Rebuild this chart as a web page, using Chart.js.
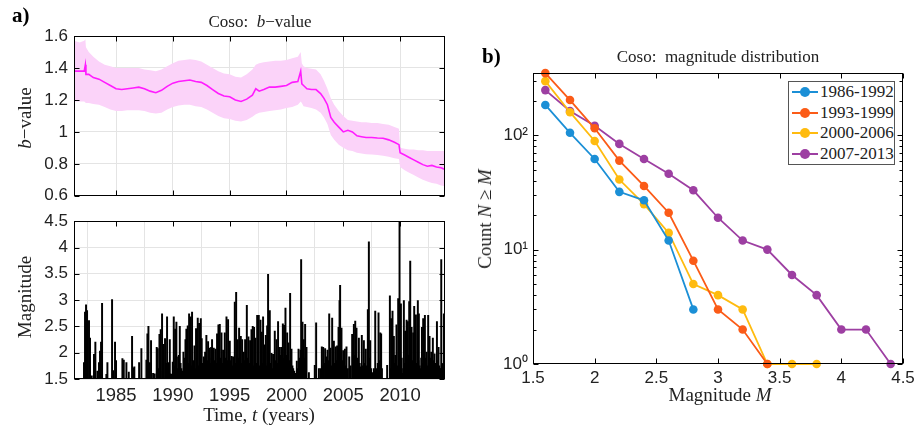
<!DOCTYPE html>
<html>
<head>
<meta charset="utf-8">
<script src="https://cdn.jsdelivr.net/npm/chart.js@4.4.1/dist/chart.umd.min.js"></script>
<style>
  body { margin: 0; background: #fff; }
  #page { position: relative; width: 923px; height: 427px; overflow: hidden; }
  .box { position: absolute; }
  .lbl { position: absolute; font-family: "Liberation Serif", serif; font-size: 17px; color: #222; white-space: nowrap; transform: translate(-50%, -50%); }
  .ax { font-size: 19px; }
  .rot { transform: translate(-50%, -50%) rotate(-90deg); }
  .tag { position: absolute; font-family: "Liberation Serif", serif; font-weight: bold; font-size: 21px; color: #000; }
  #legend { position: absolute; left: 788px; top: 81px; width: 107px; height: 84px; border: 1px solid #555; background: #fff; box-sizing: border-box; }
  .row { display: flex; align-items: center; height: 20.5px; padding-left: 3px; font-family: "Liberation Serif", serif; font-size: 17px; color: #222; white-space: nowrap; }
  .sw { position: relative; width: 26px; height: 10px; margin-right: 2px; flex: none; }
  .sw .ln { position: absolute; left: 0; right: 0; top: 4px; height: 2px; }
  .sw .dot { position: absolute; left: 8px; top: 0; width: 10px; height: 10px; border-radius: 50%; }
</style>
</head>
<body>
<div id="page">
  <div class="box" style="left:0;top:0;width:460px;height:212px"><canvas id="bChart" width="460" height="212"></canvas></div>
  <div class="box" style="left:0;top:205px;width:460px;height:222px"><canvas id="magChart" width="460" height="222"></canvas></div>
  <div class="box" style="left:470px;top:40px;width:453px;height:387px"><canvas id="distChart" width="453" height="387"></canvas></div>

  <div class="tag" style="left:12px;top:3px">a)</div>
  <div class="tag" style="left:482px;top:44px">b)</div>
  <div class="lbl" style="left:260px;top:22px">Coso: &nbsp;<i>b</i>−value</div>
  <div class="lbl" style="left:718px;top:57px">Coso: &nbsp;magnitude distribution</div>
  <div class="lbl ax rot" style="left:25px;top:118px"><i>b</i>−value</div>
  <div class="lbl ax rot" style="left:25px;top:297px">Magnitude</div>
  <div class="lbl ax" style="left:259px;top:415px">Time, <i>t</i> (years)</div>
  <div class="lbl ax rot" style="left:485px;top:219px">Count <i>N</i> ≥ <i>M</i></div>
  <div class="lbl ax" style="left:720px;top:395px">Magnitude <i>M</i></div>
  <div id="legend"></div>
</div>

<script>
// ---- b-value through time (panel a, top)
const bYears = [1981.3, 1981.8, 1982.2, 1982.3, 1982.35, 1982.6, 1983.0, 1983.5, 1984.0, 1984.5, 1985.0, 1985.5, 1986.0, 1986.5, 1987.0, 1987.5, 1988.0, 1988.5, 1989.0, 1989.5, 1990.0, 1990.5, 1991.0, 1991.5, 1992.0, 1992.5, 1993.0, 1993.5, 1994.0, 1994.5, 1995.0, 1995.5, 1996.0, 1996.5, 1997.0, 1997.3, 1997.6, 1998.0, 1998.5, 1999.0, 1999.5, 2000.0, 2000.5, 2001.0, 2001.25, 2001.35, 2001.5, 2001.8, 2002.2, 2002.6, 2003.0, 2003.3, 2003.6, 2003.9, 2004.2, 2004.6, 2005.0, 2005.4, 2005.8, 2006.2, 2006.6, 2007.0, 2007.5, 2008.0, 2008.5, 2009.0, 2009.5, 2009.9, 2010.0, 2010.4, 2010.8, 2011.2, 2011.6, 2012.0, 2012.4, 2012.8, 2013.2, 2013.6, 2013.95];
const bValue = [1.38, 1.38, 1.38, 1.42, 1.36, 1.36, 1.34, 1.33, 1.31, 1.29, 1.27, 1.265, 1.27, 1.275, 1.28, 1.27, 1.255, 1.245, 1.26, 1.285, 1.305, 1.315, 1.32, 1.325, 1.315, 1.31, 1.29, 1.265, 1.24, 1.225, 1.22, 1.2, 1.19, 1.205, 1.23, 1.27, 1.255, 1.265, 1.28, 1.28, 1.285, 1.29, 1.31, 1.315, 1.38, 1.3, 1.29, 1.27, 1.265, 1.265, 1.24, 1.21, 1.17, 1.09, 1.06, 1.03, 1.0, 1.01, 1.0, 0.975, 0.97, 0.965, 0.965, 0.962, 0.96, 0.95, 0.935, 0.92, 0.87, 0.855, 0.84, 0.825, 0.81, 0.795, 0.785, 0.79, 0.78, 0.775, 0.765];
const bUpper = [1.57, 1.56, 1.57, 1.58, 1.53, 1.5, 1.47, 1.44, 1.42, 1.41, 1.4, 1.4, 1.4, 1.4, 1.4, 1.39, 1.385, 1.38, 1.39, 1.41, 1.43, 1.445, 1.45, 1.455, 1.45, 1.44, 1.42, 1.4, 1.38, 1.365, 1.36, 1.345, 1.34, 1.36, 1.39, 1.42, 1.43, 1.435, 1.44, 1.445, 1.445, 1.45, 1.46, 1.47, 1.5, 1.43, 1.41, 1.4, 1.395, 1.39, 1.36, 1.32, 1.27, 1.21, 1.17, 1.13, 1.1, 1.075, 1.07, 1.065, 1.06, 1.06, 1.055, 1.055, 1.05, 1.045, 1.03, 1.02, 0.9, 0.895, 0.89, 0.89, 0.885, 0.885, 0.88, 0.88, 0.88, 0.88, 0.88];
const bLower = [1.19, 1.19, 1.19, 1.18, 1.18, 1.18, 1.175, 1.17, 1.155, 1.14, 1.13, 1.13, 1.135, 1.135, 1.135, 1.13, 1.12, 1.115, 1.12, 1.14, 1.155, 1.165, 1.17, 1.17, 1.16, 1.155, 1.14, 1.12, 1.1, 1.085, 1.08, 1.07, 1.065, 1.075, 1.095, 1.11, 1.12, 1.125, 1.13, 1.135, 1.14, 1.15, 1.155, 1.17, 1.19, 1.18, 1.16, 1.155, 1.15, 1.14, 1.12, 1.09, 1.05, 0.98, 0.95, 0.92, 0.9, 0.885, 0.88, 0.87, 0.865, 0.86, 0.858, 0.855, 0.85, 0.845, 0.835, 0.83, 0.78, 0.76, 0.745, 0.73, 0.715, 0.7, 0.69, 0.68, 0.675, 0.665, 0.66];

// ---- earthquake magnitudes (panel a, bottom)
const quakeYears = [
  1982.18, 1982.27, 1982.36, 1982.45, 1982.62, 1982.71, 1982.86, 1983.06, 1983.18, 1983.36,
  1983.50, 1983.59, 1983.68, 1983.77, 1984.15, 1984.24, 1984.65, 1984.74, 1984.91, 1985.00,
  1985.56, 1985.68, 1985.91, 1986.12, 1986.41, 1986.50, 1986.61, 1987.03, 1987.23, 1987.67,
  1987.76, 1987.85, 1987.96, 1988.08, 1988.26, 1988.58, 1988.67, 1988.82, 1988.93, 1989.05,
  1989.17, 1989.31, 1989.49, 1989.61, 1989.73, 1989.87, 1989.99, 1990.08, 1990.20, 1990.31,
  1990.46, 1990.61, 1990.75, 1990.93, 1991.11, 1991.19, 1991.31, 1991.43, 1991.57, 1991.69,
  1991.90, 1992.04, 1992.19, 1992.31, 1992.46, 1992.54, 1992.72, 1992.84, 1992.95, 1993.10,
  1993.25, 1993.37, 1993.45, 1993.60, 1993.75, 1993.89, 1994.01, 1994.13, 1994.28, 1994.42,
  1994.57, 1994.72, 1994.86, 1995.01, 1995.16, 1995.30, 1995.45, 1995.57, 1995.71, 1995.83,
  1995.98, 1996.10, 1996.24, 1996.36, 1996.51, 1996.65, 1996.80, 1996.92, 1997.03, 1997.15,
  1997.27, 1997.42, 1997.56, 1997.71, 1997.83, 1997.94, 1998.09, 1998.18, 1998.30, 1998.38,
  1998.53, 1998.68, 1998.82, 1998.97, 1999.12, 1999.26, 1999.41, 1999.56, 1999.68, 1999.79,
  1999.91, 2000.06, 2000.17, 2000.32, 2000.44, 2000.59, 2000.76, 2000.91, 2001.06, 2001.17,
  2001.29, 2001.41, 2001.52, 2001.64, 2001.76, 2001.97, 2002.49, 2002.61, 2002.85, 2002.99,
  2003.11, 2003.23, 2003.40, 2003.52, 2003.61, 2003.76, 2003.87, 2004.02, 2004.17, 2004.34,
  2004.46, 2004.58, 2004.67, 2004.72, 2004.84, 2004.99, 2005.14, 2005.28, 2005.52, 2005.78,
  2005.93, 2006.05, 2006.16, 2006.37, 2006.51, 2006.63, 2006.81, 2006.98, 2007.16, 2007.25,
  2007.37, 2007.57, 2007.69, 2007.81, 2007.95, 2008.10, 2008.25, 2008.33, 2008.86, 2009.10,
  2009.21, 2009.33, 2009.45, 2009.57, 2009.68, 2009.83, 2009.95, 2010.07, 2010.21, 2010.33,
  2010.45, 2010.57, 2010.68, 2010.80, 2010.89, 2011.01, 2011.15, 2011.24, 2011.39, 2011.56,
  2011.65, 2011.80, 2011.92, 2012.03, 2012.18, 2012.33, 2012.47, 2012.59, 2012.74, 2012.88,
  2013.03, 2013.24, 2013.38, 2013.50, 2013.62, 2013.74, 2013.85, 2013.94,
];
const quakeMags = [
  1.81, 2.77, 2.91, 2.80, 2.61, 2.28, 1.56, 1.97, 2.20, 1.65,
  1.81, 2.03, 2.20, 2.94, 1.59, 1.81, 3.01, 1.66, 2.20, 1.85,
  1.89, 1.86, 1.81, 1.63, 2.31, 1.71, 1.73, 1.81, 2.08, 1.86,
  2.36, 2.50, 1.81, 2.23, 1.61, 2.10, 2.08, 2.35, 2.44, 2.74,
  2.16, 2.27, 2.68, 1.81, 2.25, 1.59, 1.82, 2.68, 2.45, 2.58,
  1.92, 2.50, 1.70, 2.01, 2.25, 2.45, 2.51, 2.74, 2.68, 2.77,
  2.13, 2.46, 2.66, 2.56, 2.65, 2.27, 1.92, 2.01, 2.33, 2.21,
  2.09, 2.10, 2.25, 2.09, 2.07, 2.36, 2.53, 2.54, 2.38, 2.05,
  2.38, 2.68, 2.63, 2.22, 1.93, 1.92, 2.96, 3.15, 2.25, 2.47,
  2.31, 2.25, 2.01, 2.25, 2.90, 2.30, 2.23, 2.44, 2.50, 2.48,
  2.28, 2.71, 2.71, 2.62, 2.39, 2.68, 2.15, 2.33, 2.51, 3.49,
  2.80, 1.99, 1.97, 2.41, 2.25, 2.59, 2.10, 2.10, 2.55, 2.52,
  2.85, 2.38, 2.19, 3.13, 2.07, 1.70, 1.61, 1.84, 2.07, 1.86,
  3.77, 2.58, 2.25, 2.54, 2.10, 1.62, 1.76, 2.57, 1.70, 1.70,
  2.11, 2.10, 2.08, 1.92, 2.05, 2.74, 2.09, 2.66, 2.22, 2.11,
  2.13, 2.48, 2.99, 3.28, 2.47, 2.04, 2.07, 2.11, 1.92, 2.35,
  2.54, 2.60, 2.47, 2.28, 1.73, 2.33, 2.23, 2.07, 2.82, 4.11,
  2.23, 1.62, 1.70, 2.79, 1.67, 2.76, 2.38, 2.36, 1.76, 3.08,
  2.65, 2.79, 2.31, 1.95, 2.53, 3.03, 4.60, 2.93, 1.61, 2.99,
  2.41, 2.62, 2.59, 2.97, 3.74, 2.48, 2.38, 2.88, 2.72, 2.99,
  2.74, 1.70, 2.48, 2.65, 2.71, 2.01, 2.71, 2.31, 2.01, 2.28,
  1.98, 2.59, 2.10, 1.70, 3.77, 1.78, 2.74, 1.70,
];
// the small events that fill the dark band near the bottom
const minorYears = [
  1988.40, 1988.75, 1989.10, 1989.40, 1989.80, 1990.14, 1990.25, 1990.38, 1990.53, 1990.68,
  1990.85, 1991.02, 1991.15, 1991.25, 1991.37, 1991.50, 1991.63, 1991.78, 1991.96, 1992.10,
  1992.25, 1992.38, 1992.50, 1992.62, 1992.78, 1992.90, 1993.03, 1993.17, 1993.30, 1993.41,
  1993.52, 1993.68, 1993.82, 1993.95, 1994.07, 1994.20, 1994.35, 1994.49, 1994.64, 1994.79,
  1994.93, 1995.08, 1995.23, 1995.37, 1995.51, 1995.64, 1995.77, 1995.90, 1996.04, 1996.17,
  1996.30, 1996.43, 1996.58, 1996.72, 1996.86, 1996.97, 1997.09, 1997.21, 1997.35, 1997.49,
  1997.63, 1997.77, 1997.88, 1998.02, 1998.13, 1998.24, 1998.45, 1998.60, 1998.75, 1998.90,
  1999.05, 1999.19, 1999.33, 1999.48, 1999.62, 1999.74, 1999.85, 1999.97, 2000.12, 2000.25,
  2000.38, 2000.52, 2000.68, 2001.00, 2001.12, 2001.23, 2001.35, 2001.47, 2001.58, 2001.70,
  2003.17, 2003.30, 2003.46, 2003.68, 2003.82, 2003.95, 2004.10, 2004.25, 2004.40, 2004.52,
  2004.78, 2004.92, 2005.06, 2005.21, 2005.40, 2005.65, 2005.86, 2005.99, 2006.10, 2006.23,
  2006.30, 2006.44, 2006.57, 2006.72, 2006.89, 2007.05, 2007.31, 2007.45, 2007.75, 2007.88,
  2008.03, 2008.18, 2008.40, 2009.15, 2009.27, 2009.39, 2009.51, 2009.63, 2009.76, 2009.89,
  2010.01, 2010.14, 2010.27, 2010.39, 2010.51, 2010.62, 2010.74, 2010.85, 2010.95, 2011.07,
  2011.20, 2011.31, 2011.46, 2011.60, 2011.72, 2011.86, 2011.97, 2012.10, 2012.25, 2012.40,
  2012.53, 2012.66, 2012.81, 2012.95, 2013.10, 2013.17, 2013.31, 2013.44, 2013.56, 2013.68,
  2013.80, 2013.90,
];
const minorMags = [
  1.60, 1.70, 1.65, 1.80, 1.60, 1.75, 1.90, 1.70, 1.95, 1.80,
  1.65, 1.90, 1.70, 1.95, 1.80, 1.90, 1.75, 1.85, 1.70, 1.90,
  1.75, 1.85, 1.70, 1.80, 1.90, 1.75, 1.85, 1.70, 1.80, 1.90,
  1.75, 1.85, 1.80, 1.90, 1.85, 1.90, 1.80, 1.75, 1.90, 1.85,
  1.80, 1.85, 1.75, 1.90, 1.80, 1.85, 1.90, 1.75, 1.80, 1.90,
  1.85, 1.75, 1.90, 1.80, 1.85, 1.90, 1.75, 1.85, 1.80, 1.90,
  1.75, 1.85, 1.80, 1.90, 1.80, 1.75, 1.85, 1.80, 1.70, 1.90,
  1.85, 1.80, 1.90, 1.95, 2.00, 1.90, 2.05, 1.95, 1.90, 1.85,
  1.80, 1.75, 1.65, 1.70, 1.90, 2.05, 1.95, 2.00, 1.90, 1.85,
  1.75, 1.80, 1.70, 1.85, 1.80, 1.75, 1.90, 1.80, 1.85, 1.90,
  1.95, 1.85, 1.90, 1.75, 1.70, 1.75, 1.90, 1.95, 2.00, 1.90,
  1.85, 1.80, 1.70, 1.75, 1.80, 1.75, 1.90, 1.70, 1.65, 1.70,
  1.80, 1.85, 1.70, 1.70, 1.90, 1.85, 1.80, 1.90, 1.75, 2.00,
  1.85, 1.90, 1.70, 1.80, 1.90, 1.85, 1.95, 1.80, 1.90, 1.85,
  1.75, 1.90, 1.80, 1.85, 1.75, 1.90, 1.80, 1.85, 1.90, 1.75,
  1.80, 1.90, 1.75, 1.85, 1.80, 1.70, 1.85, 1.75, 1.70, 1.80,
  1.75, 1.80,
];
const yearTicks = [1985, 1990, 1995, 2000, 2005, 2010];

// ---- cumulative magnitude distribution (panel b)
const magBins = [1.6, 1.8, 2.0, 2.2, 2.4, 2.6, 2.8, 3.0, 3.2, 3.4, 3.6, 3.8, 4.0, 4.2, 4.4];
const periods = ["1986-1992", "1993-1999", "2000-2006", "2007-2013"];
const count8692 = [184, 105, 62, 32, 27, 12, 3];
const count9399 = [349, 203, 115, 60, 36, 21, 8, 3, 2, 1];
const count0006 = [297, 159, 89, 41, 25, 14, 5, 4, 3, 1, 1, 1];
const count0713 = [248, 163, 121, 84, 62, 46, 33, 19, 12, 10, 6, 4, 2, 2, 1];
const countTicks = [1, 10, 100];
const countLabels = ["10⁰", "10¹", "10²"];

const COLORS = {
  band: "#fbd3f9",
  bline: "#ff1cff",
  series: ["#1b8fd6", "#fb5b17", "#ffbb0f", "#9d3fa2"],
  grid: "#e4e4e4",
  text: "#222",
};

Chart.defaults.font.family = '"Liberation Sans", Arial, sans-serif';
Chart.defaults.font.size = 17;
Chart.defaults.color = COLORS.text;
Chart.defaults.animation = false;

const num = (v) => String(+Number(v).toFixed(2));

// box round the plot area, with MATLAB style inward ticks
const frame = {
  id: "frame",
  afterDraw(chart, args, opts) {
    const { ctx, chartArea: a } = chart;
    const sx = chart.scales.x;
    const sy = chart.scales.y;
    const L = Math.round(a.left) + 0.5, R = Math.round(a.right) - 0.5;
    const T = Math.round(a.top) + 0.5, B = Math.round(a.bottom) - 0.5;
    ctx.save();
    ctx.strokeStyle = "#000";
    ctx.lineWidth = 1;
    ctx.beginPath();
    const marks = (len, xs, ys) => {
      xs.forEach((v) => {
        const p = Math.round(sx.getPixelForValue(v)) + 0.5;
        ctx.moveTo(p, B); ctx.lineTo(p, B - len);
        ctx.moveTo(p, T); ctx.lineTo(p, T + len);
      });
      ys.forEach((v) => {
        const p = Math.round(sy.getPixelForValue(v)) + 0.5;
        ctx.moveTo(L, p); ctx.lineTo(L + len, p);
        ctx.moveTo(R, p); ctx.lineTo(R - len, p);
      });
    };
    marks(5, sx.ticks.map((t) => t.value), sy.ticks.map((t) => t.value));
    if (opts.minorY) marks(3, [], opts.minorY);
    ctx.stroke();
    ctx.strokeRect(L, T, R - L, B - T);
    ctx.restore();
  },
};

const fixTicks = (values) => (scale) => {
  scale.ticks = values.map((v) => ({ value: v }));
};

function yearAxis(showLabels, height) {
  return {
    type: "linear",
    min: 1981.3,
    max: 2013.95,
    offset: false,
    afterBuildTicks: fixTicks(yearTicks),
    afterFit: (s) => { s.height = height; },
    grid: { color: COLORS.grid, drawTicks: false },
    border: { display: false },
    ticks: { display: showLabels, padding: 6, font: { size: 18.5 }, callback: (v) => String(v) },
  };
}

function renderBValue() {
  const pts = (arr) => bYears.map((t, i) => ({ x: t, y: arr[i] }));
  new Chart(document.getElementById("bChart"), {
    type: "line",
    data: {
      datasets: [
        { data: pts(bValue), borderColor: COLORS.bline, borderWidth: 1.6, pointRadius: 0, fill: false },
        { data: pts(bUpper), borderWidth: 0, pointRadius: 0, fill: "+1", backgroundColor: COLORS.band },
        { data: pts(bLower), borderWidth: 0, pointRadius: 0, fill: false },
      ],
    },
    options: {
      responsive: false,
      layout: { padding: { top: 36, right: 15, bottom: 12, left: 0 } },
      scales: {
        x: yearAxis(false, 0),
        y: {
          min: 0.6,
          max: 1.6,
          ticks: { stepSize: 0.2, padding: 6, callback: num },
          afterFit: (s) => { s.width = 74; },
          grid: { color: COLORS.grid, drawTicks: false },
          border: { display: false },
        },
      },
      plugins: {
        legend: { display: false },
        tooltip: { enabled: false },
        filler: { drawTime: "beforeDatasetsDraw" },
      },
    },
    plugins: [frame],
  });
}

function renderMagnitudes() {
  const pts = (ys, ms) => ys.map((t, i) => ({ x: t, y: ms[i] }));
  const bars = { backgroundColor: "#000", barThickness: 1.3, grouped: false, base: 1.5 };
  new Chart(document.getElementById("magChart"), {
    type: "bar",
    data: {
      datasets: [
        { ...bars, data: pts(minorYears, minorMags) },
        { ...bars, data: pts(quakeYears, quakeMags) },
      ],
    },
    options: {
      responsive: false,
      layout: { padding: { top: 11, right: 15, bottom: 24, left: 0 } },
      scales: {
        x: yearAxis(true, 24),
        y: {
          min: 1.5,
          max: 4.5,
          ticks: { stepSize: 0.5, padding: 6, callback: num },
          afterFit: (s) => { s.width = 74; },
          grid: { color: COLORS.grid, drawTicks: false },
          border: { display: false },
        },
      },
      plugins: { legend: { display: false }, tooltip: { enabled: false } },
    },
    plugins: [frame],
  });
}

function renderDistribution() {
  const counts = [count8692, count9399, count0006, count0713];
  const minor = [];
  for (const d of [1, 10, 100]) for (let k = 2; k <= 9; k++) if (k * d < 350) minor.push(k * d);

  new Chart(document.getElementById("distChart"), {
    type: "line",
    data: {
      datasets: counts.map((c, i) => ({
        label: periods[i],
        data: c.map((n, j) => ({ x: magBins[j], y: n })),
        borderColor: COLORS.series[i],
        backgroundColor: COLORS.series[i],
        borderWidth: 1.8,
        pointRadius: 4.3,
        pointBorderWidth: 0,
        tension: 0,
        clip: false,
      })),
    },
    options: {
      responsive: false,
      layout: { padding: { top: 33, right: 20, bottom: 33, left: 0 } },
      scales: {
        x: {
          type: "linear",
          min: 1.5,
          max: 4.5,
          ticks: { stepSize: 0.5, padding: 4, callback: num },
          afterFit: (s) => { s.height = 30; },
          grid: { display: false, drawTicks: false },
          border: { display: false },
        },
        y: {
          type: "logarithmic",
          min: 1,
          max: 350,
          afterBuildTicks: fixTicks(countTicks),
          ticks: { padding: 5, callback: (v) => countLabels[countTicks.indexOf(v)] },
          afterFit: (s) => { s.width = 63; },
          grid: { display: false, drawTicks: false },
          border: { display: false },
        },
      },
      plugins: { legend: { display: false }, tooltip: { enabled: false }, frame: { minorY: minor } },
    },
    plugins: [frame],
  });

  document.getElementById("legend").innerHTML = periods
    .map(
      (p, i) => `<div class="row"><span class="sw"><span class="ln" style="background:${COLORS.series[i]}"></span><span class="dot" style="background:${COLORS.series[i]}"></span></span>${p}</div>`
    )
    .join("");
}

renderBValue();
renderMagnitudes();
renderDistribution();
</script>
</body>
</html>
